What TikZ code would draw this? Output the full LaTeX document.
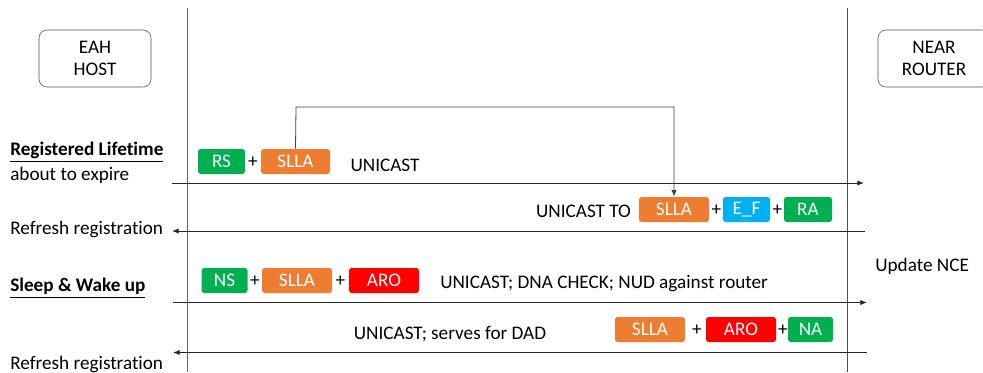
\documentclass[tikz,border=0pt]{standalone}
\usepackage{fontspec}
\setmainfont{Carlito}[Ligatures=NoCommon]
\usetikzlibrary{arrows.meta}
\definecolor{pgreen}{HTML}{00B050}
\definecolor{porange}{HTML}{ED7D31}
\definecolor{pblue}{HTML}{00B0F0}
\definecolor{pred}{HTML}{FF0000}
\tikzset{pk/.append style={rounded corners=2pt,text=white,minimum height=18.75pt,inner sep=0pt,font=\fontsize{14.4}{16}\selectfont}}
\tikzset{ent/.append style={draw=black!70,rounded corners=6pt,minimum width=84pt,minimum height=42.75pt,align=center,font=\fontsize{14.4}{17}\selectfont}}
\tikzset{lbl/.append style={inner sep=0pt,font=\fontsize{14.4}{16}\selectfont}}
\tikzset{msg/.append style={draw=black!85,line width=0.75pt,-{Latex[length=5pt,width=4pt]}}}

\begin{document}
\begin{tikzpicture}[x=0.75pt,y=-0.75pt]
                \useasboundingbox (0,0) rectangle (983,372);
                % lifelines
                \coordinate (ht) at (187,8);
                \coordinate (hb) at (187,372);
                \coordinate (rt) at (847,8);
                \coordinate (rb) at (847,372);
                \draw[black!60,line width=0.75pt] (ht) -- (hb);
                \draw[black!70,line width=0.75pt] (rt) -- (rb);
                \node[ent] (host) at (95,58.5) {EAH\\HOST};
                \node[ent] (router) at (934,58.5) {NEAR\\ROUTER};
                % left side labels
                \node[lbl,anchor=west] (reg) at (10,152) {\textbf{\underline{Registered Lifetime}}};
                \node[lbl,anchor=west] (exp) at (10,175) {about to expire};
                \node[lbl,anchor=west] (ref1) at (10,229) {Refresh registration};
                \node[lbl,anchor=west] (sleep) at (10,288) {\textbf{\underline{Sleep \& Wake up}}};
                \node[lbl,anchor=west] (ref2) at (10,364) {Refresh registration};
                \node[lbl,anchor=west] (nce) at (875,266) {Update NCE};
                % message ends
                \coordinate (m1a) at (172,183);
                \coordinate (m1b) at (864,183);
                \coordinate (m2a) at (865,231);
                \coordinate (m2b) at (172,231);
                \coordinate (m3a) at (173,302.5);
                \coordinate (m3b) at (867,302.5);
                \coordinate (m4a) at (867,352.5);
                \coordinate (m4b) at (173,352.5);
                \draw[msg] (m1a) -- (m1b);
                \draw[msg] (m2a) -- (m2b);
                \draw[msg] (m3a) -- (m3b);
                \draw[msg] (m4a) -- (m4b);
                % RS + SLLA
                \node[pk,fill=pgreen,minimum width=35.25pt] (rs) at (221.5,161.5) {RS};
                \node[lbl] (p1) at (253,162) {+};
                \node[pk,fill=porange,minimum width=51.75pt] (sllaA) at (295.5,161.5) {SLLA};
                \node[lbl] (u1) at (385,165) {UNICAST};
                % RA answer
                \node[lbl] (u2) at (583.5,211) {UNICAST TO};
                \node[pk,fill=porange,minimum width=52.5pt] (sllaB) at (674,209.5) {SLLA};
                \node[lbl] (p2) at (716.5,210) {+};
                \node[pk,fill=pblue,minimum width=35.25pt] (ef) at (746.5,209.5) {E\_F};
                \node[lbl] (p3) at (777.5,210) {+};
                \node[pk,fill=pgreen,minimum width=36pt] (ra) at (808,209.5) {RA};
                \draw[black!75,line width=0.6pt,-{Latex[length=5pt,width=4pt]}] (sllaA.north) -- (296,107) -| (sllaB.north);
                % NS + SLLA + ARO
                \node[pk,fill=pgreen,minimum width=34.5pt] (ns) at (224.5,280.5) {NS};
                \node[lbl] (p4) at (255,281) {+};
                \node[pk,fill=porange,minimum width=52.5pt] (sllaC) at (297,280.5) {SLLA};
                \node[lbl] (p5) at (340.5,281) {+};
                \node[pk,fill=pred,minimum width=52.5pt] (aroA) at (384,280.5) {ARO};
                \node[lbl,anchor=west] (u3) at (440,284) {UNICAST; DNA CHECK; NUD against router};
                % NA answer
                \node[lbl] (u4) at (450,334) {UNICAST; serves for DAD};
                \node[pk,fill=porange,minimum width=52.5pt] (sllaD) at (650,329.5) {SLLA};
                \node[lbl] (p6) at (697,330) {+};
                \node[pk,fill=pred,minimum width=52.5pt] (aroB) at (741,329.5) {ARO};
                \node[lbl] (p7) at (783,330) {+};
                \node[pk,fill=pgreen,minimum width=33.75pt] (na) at (810.5,329.5) {NA};
            \end{tikzpicture}
\end{document}
